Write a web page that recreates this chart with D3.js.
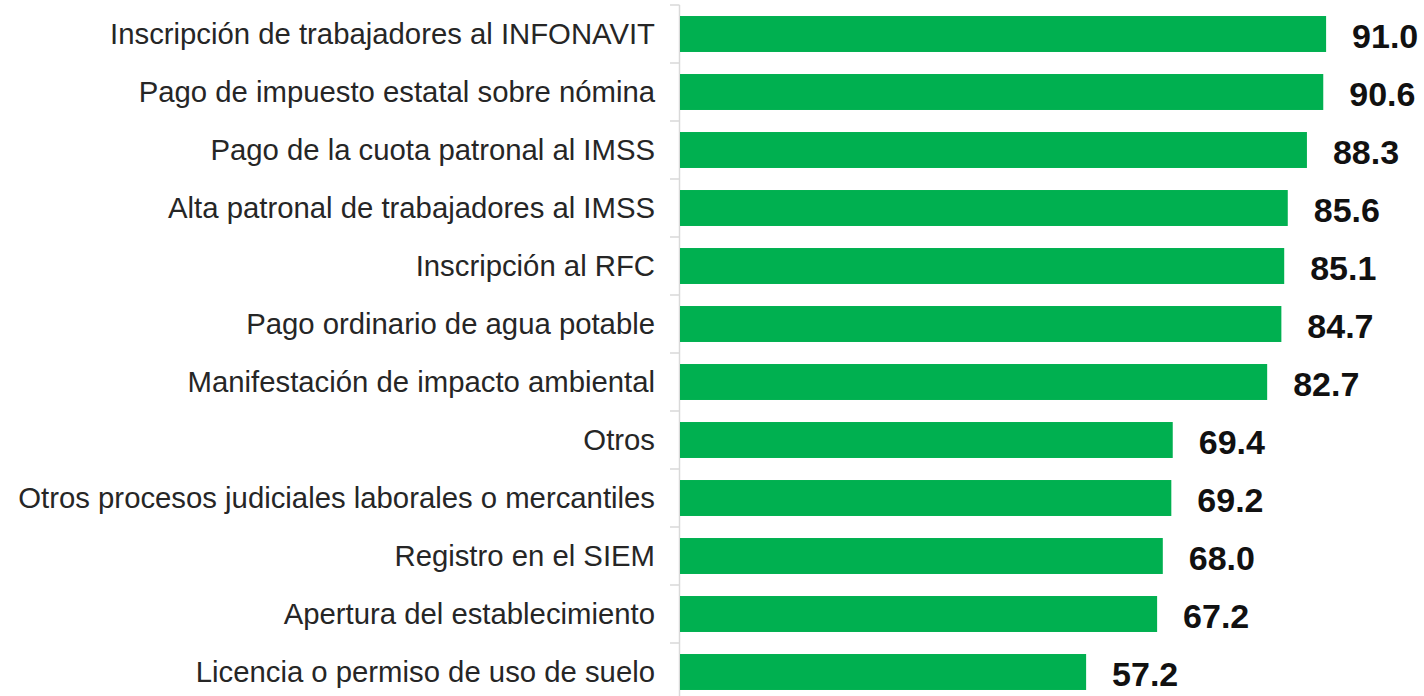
<!DOCTYPE html>
<html><head><meta charset="utf-8">
<script src="https://cdn.jsdelivr.net/npm/d3@7"></script>
<style>body{margin:0;background:#fff}svg{display:block}</style>
</head><body>
<svg id="c" width="1424" height="696"></svg>
<script>
const categories = [
  "Inscripción de trabajadores al INFONAVIT",
  "Pago de impuesto estatal sobre nómina",
  "Pago de la cuota patronal al IMSS",
  "Alta patronal de trabajadores al IMSS",
  "Inscripción al RFC",
  "Pago ordinario de agua potable",
  "Manifestación de impacto ambiental",
  "Otros",
  "Otros procesos judiciales laborales o mercantiles",
  "Registro en el SIEM",
  "Apertura del establecimiento",
  "Licencia o permiso de uso de suelo"
];
const values = [91.0, 90.6, 88.3, 85.6, 85.1, 84.7, 82.7, 69.4, 69.2, 68.0, 67.2, 57.2];

const svg = d3.select("#c");
const x0 = 680;
const x = d3.scaleLinear().domain([0, 100]).range([x0, x0 + 710]);
const y = d3.scaleBand().domain(categories).range([5, 701]).paddingInner(0.38).paddingOuter(0.19);

svg.append("line").attr("x1", x0 - 0.5).attr("x2", x0 - 0.5).attr("y1", 5).attr("y2", 701)
  .attr("stroke", "#d9d9d9").attr("stroke-width", 1.5);
const step = y.step();
svg.selectAll("line.tk").data(d3.range(categories.length + 1)).join("line")
  .attr("class", "tk")
  .attr("x1", x0 - 10).attr("x2", x0 - 0.5)
  .attr("y1", i => 5 + i * step).attr("y2", i => 5 + i * step)
  .attr("stroke", "#d9d9d9").attr("stroke-width", 1.5);

svg.selectAll("rect.bar").data(values).join("rect")
  .attr("class", "bar")
  .attr("x", x(0))
  .attr("y", (d, i) => y(categories[i]))
  .attr("width", d => x(d) - x(0))
  .attr("height", y.bandwidth())
  .attr("fill", "#00b050");

svg.selectAll("text.cat").data(categories).join("text")
  .attr("class", "cat")
  .attr("x", x0 - 25)
  .attr("y", d => y(d) + y.bandwidth() / 2)
  .attr("dy", "0.35em")
  .attr("text-anchor", "end")
  .attr("font-family", "Liberation Sans, Arial, sans-serif")
  .attr("font-size", 29.3)
  .attr("fill", "#262626")
  .text(d => d);

svg.selectAll("text.val").data(values).join("text")
  .attr("class", "val")
  .attr("x", d => x(d) + 26)
  .attr("y", (d, i) => y(categories[i]) + y.bandwidth() / 2 + 2)
  .attr("dy", "0.35em")
  .attr("font-family", "Liberation Sans, Arial, sans-serif")
  .attr("font-weight", "bold")
  .attr("font-size", 34)
  .attr("fill", "#111")
  .text(d => d.toFixed(1));
</script>
</body></html>
